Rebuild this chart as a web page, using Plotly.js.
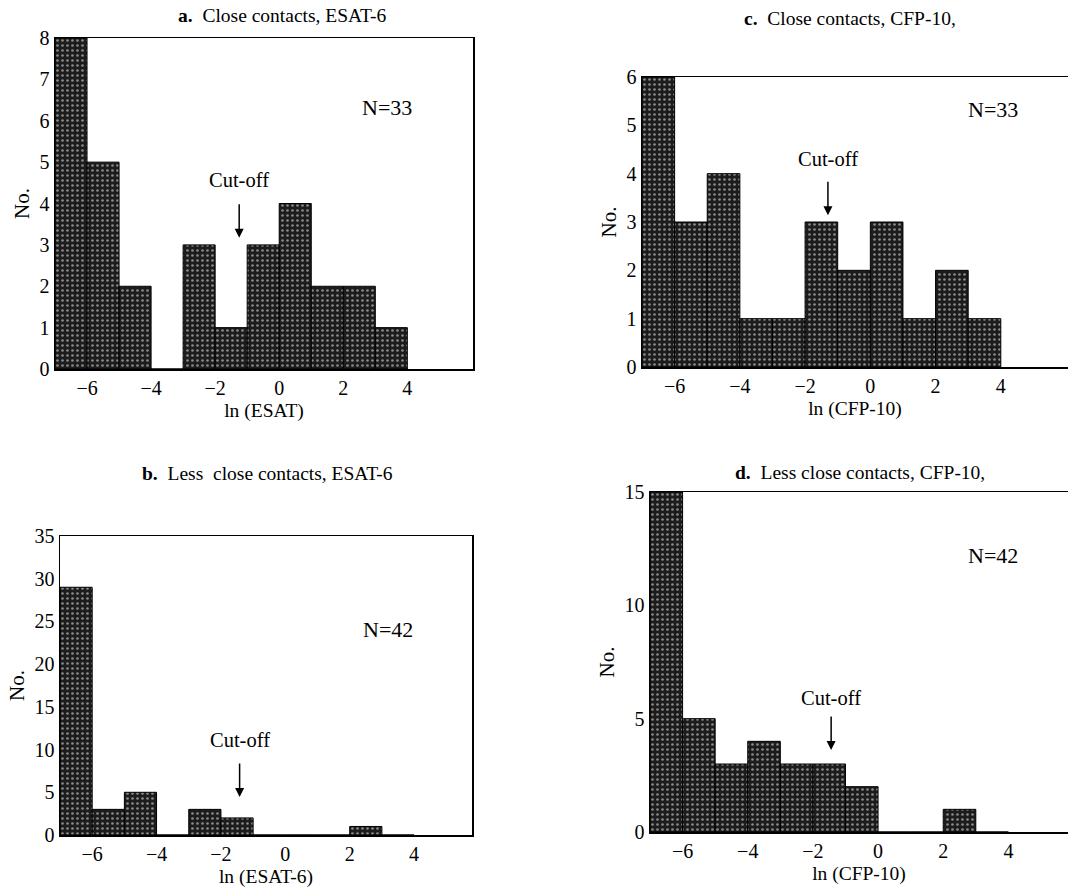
<!DOCTYPE html>
<html>
<head>
<meta charset="utf-8">
<script src="https://cdn.plot.ly/plotly-3.0.1.min.js"></script>
<style>html,body{margin:0;padding:0;background:#fff;}#chart{width:1068px;height:891px;}</style>
</head>
<body>
<div id="chart"></div>
<script>
// Bin left edges (ln scale, width 1)
const binStarts = [-7, -6, -5, -4, -3, -2, -1, 0, 1, 2, 3];
// Counts per bin
const countsA = [8, 5, 2, 0, 3, 1, 3, 4, 2, 2, 1];   // a. Close contacts, ESAT-6
const countsC = [6, 3, 4, 1, 1, 3, 2, 3, 1, 2, 1];   // c. Close contacts, CFP-10
const countsB = [29, 3, 5, 0, 3, 2, 0, 0, 0, 1, 0];  // b. Less close contacts, ESAT-6
const countsD = [15, 5, 3, 4, 3, 3, 2, 0, 0, 1, 0];  // d. Less close contacts, CFP-10
const xTicks = [-6, -4, -2, 0, 2, 4];
const cutoffs = {a: -1.25, c: -1.3, b: -1.42, d: -1.44};
const nLabels = {a: 'N=33', c: 'N=33', b: 'N=42', d: 'N=42'};

const centers = binStarts.map(v => v + 0.5);
const FONT = 'Liberation Serif, Times New Roman, serif';

function barTrace(counts, xa, ya) {
  return {
    type: 'bar', x: centers, y: counts, width: 1, xaxis: xa, yaxis: ya,
    marker: {
      color: '#252525',
      line: {color: '#000', width: 1},
      pattern: {shape: '.', fgcolor: '#8a8a8a', bgcolor: '#1c1c1c', size: 5, solidity: 0.22}
    },
    hoverinfo: 'skip', showlegend: false
  };
}

const data = [
  barTrace(countsA, 'x', 'y'),
  barTrace(countsC, 'x2', 'y2'),
  barTrace(countsB, 'x3', 'y3'),
  barTrace(countsD, 'x4', 'y4')
];

const W = 1068, H = 891;
const px = v => v / W;
const py = v => 1 - v / H;

function xax(l, r, range, title, standoff, mirror) {
  return {
    domain: [px(l), px(r)], range: range, tickvals: xTicks,
    showline: true, linecolor: '#000', linewidth: 1.5, mirror: mirror,
    ticks: '', showgrid: false, zeroline: false, fixedrange: true,
    tickfont: {family: FONT, size: 20, color: '#000'},
    title: {text: title, font: {family: FONT, size: 19.5, color: '#000'}, standoff: standoff},
    automargin: false
  };
}
function yax(top, bot, range, dtick, anchor, mirror) {
  return {
    domain: [py(bot), py(top)], range: range, dtick: dtick, anchor: anchor,
    showline: true, linecolor: '#000', linewidth: 1.5, mirror: mirror,
    ticks: '', showgrid: false, zeroline: false, fixedrange: true,
    tickfont: {family: FONT, size: 20, color: '#000'},
    title: {text: 'No.', font: {family: FONT, size: 21, color: '#000'}, standoff: 4},
    automargin: false
  };
}

const layout = {
  width: W, height: H,
  margin: {l: 0, r: 0, t: 0, b: 0},
  paper_bgcolor: '#fff', plot_bgcolor: '#fff',
  bargap: 0,
  font: {family: FONT, color: '#000'},
  xaxis:  Object.assign(xax(55, 473, [-7, 6.05], 'ln (ESAT)', 6, true), {anchor: 'y'}),
  yaxis:  yax(38, 369, [0, 8], 1, 'x', true),
  xaxis2: Object.assign(xax(642, 1068, [-7, 6.06], 'ln (CFP-10)', 6, true), {anchor: 'y2'}),
  yaxis2: yax(77, 367, [0, 6], 1, 'x2', false),
  xaxis3: Object.assign(xax(60, 472, [-7, 5.8], 'ln (ESAT-6)', 6, true), {anchor: 'y3'}),
  yaxis3: yax(536, 835, [0, 35], 5, 'x3', true),
  xaxis4: Object.assign(xax(650, 1068, [-7, 5.83], 'ln (CFP-10)', 6, true), {anchor: 'y4'}),
  yaxis4: yax(492, 832, [0, 15], 5, 'x4', false),
  annotations: []
};

const ann = layout.annotations;
function panelTitle(letter, text, x, y) {
  ann.push({xref: 'paper', yref: 'paper', x: px(x), y: py(y), xanchor: 'center', yanchor: 'middle',
    text: '<b>' + letter + '.</b>  ' + text, showarrow: false, font: {family: FONT, size: 19.5, color: '#000'}});
}
panelTitle('a', 'Close contacts, ESAT-6', 282, 15);
panelTitle('c', 'Close contacts, CFP-10,', 850, 18);
panelTitle('b', 'Less  close contacts, ESAT-6', 267, 473);
panelTitle('d', 'Less close contacts, CFP-10,', 860, 472);

function cutoff(xr, yr, x, yHead, yText) {
  ann.push({xref: xr, yref: yr, x: x, y: yHead, ax: 0, ay: -35, text: '', showarrow: true,
    arrowhead: 2, arrowsize: 1.2, arrowwidth: 1.5, arrowcolor: '#000'});
  ann.push({xref: xr, yref: yr, x: x, y: yText, text: 'Cut-off', showarrow: false,
    xanchor: 'center', yanchor: 'middle', font: {family: FONT, size: 20.5, color: '#000'}});
}
cutoff('x', 'y', cutoffs.a, 3.17, 4.57);
cutoff('x2', 'y2', cutoffs.c, 3.14, 4.30);
cutoff('x3', 'y3', cutoffs.b, 4.45, 11.1);
cutoff('x4', 'y4', cutoffs.d, 3.62, 5.91);

function nLabel(xr, yr, x, y, t) {
  ann.push({xref: xr, yref: yr, x: x, y: y, text: t, showarrow: false,
    xanchor: 'center', yanchor: 'middle', font: {family: FONT, size: 22, color: '#000'}});
}
nLabel('x', 'y', 3.37, 6.31, nLabels.a);
nLabel('x2', 'y2', 3.76, 5.32, nLabels.c);
nLabel('x3', 'y3', 3.19, 24.0, nLabels.b);
nLabel('x4', 'y4', 3.53, 12.2, nLabels.d);

Plotly.newPlot('chart', data, layout, {staticPlot: true, displayModeBar: false});
</script>
</body>
</html>
